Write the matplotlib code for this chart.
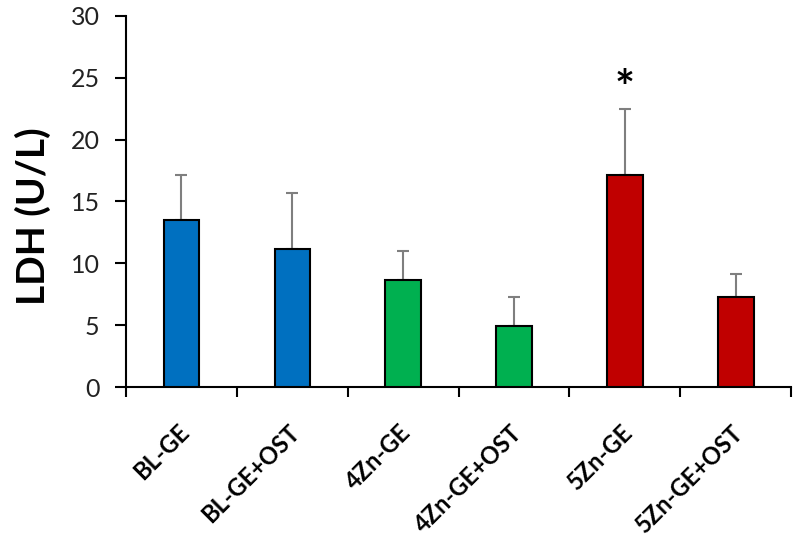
import numpy as np
import matplotlib.pyplot as plt
import matplotlib.transforms as mtransforms

# values
groups = ["BL-GE", "BL-GE+OST", "4Zn-GE", "4Zn-GE+OST", "5Zn-GE", "5Zn-GE+OST"]
ldh = [13.5, 11.15, 8.62, 4.95, 17.1, 7.32]
ldh_sd = [3.66, 4.53, 2.34, 2.37, 5.37, 1.81]
colors = ["#0070C0", "#0070C0", "#00B050", "#00B050", "#C00000", "#C00000"]
star_group = "5Zn-GE"
star_y = 24.0

plt.rcParams['font.family'] = ['Lato', 'DejaVu Sans']

fig = plt.figure(figsize=(8, 5.43), dpi=100)
ax = fig.add_axes([0.1575, 0.287, 0.8315, 0.684])

x = np.arange(len(groups))
ax.bar(x, ldh, width=0.32, color=colors, edgecolor="black", linewidth=1.5, zorder=3)
ax.errorbar(x, ldh, yerr=[np.zeros(len(ldh)), ldh_sd], fmt="none",
            ecolor="#7f7f7f", elinewidth=1.5, capsize=4.5, capthick=1.5, zorder=2)

ax.text(groups.index(star_group), star_y, "*", ha="center", va="center",
        fontsize=34, fontweight="bold")

ax.set_xlim(-0.5, len(groups) - 0.5)
ax.set_ylim(0, 30)
ax.set_yticks(np.arange(0, 31, 5))
ax.tick_params(axis="y", labelsize=18, length=8, width=1.5, direction="out", pad=11,
               labelcolor="#222222")

# ticks at group boundaries, labels at centers
ax.set_xticks(np.arange(-0.5, len(groups), 1.0))
ax.set_xticklabels([])
ax.tick_params(axis="x", which="major", length=7, width=1.5, direction="out")
ax.set_xticks(x, minor=True)
ax.set_xticklabels(groups, minor=True, rotation=45, ha="right",
                   rotation_mode="anchor", fontsize=17, fontweight="bold")
ax.tick_params(axis="x", which="minor", length=0, pad=24)
shift = mtransforms.ScaledTranslation(-3 / 72, 0, fig.dpi_scale_trans)
for lbl in ax.get_xticklabels(minor=True):
    lbl.set_transform(lbl.get_transform() + shift)

ax.set_ylabel("LDH (U/L)", fontsize=28, fontweight="bold", labelpad=14, y=0.46)

for s in ["top", "right"]:
    ax.spines[s].set_visible(False)
for s in ["left", "bottom"]:
    ax.spines[s].set_linewidth(1.5)

fig.savefig("out.png", dpi=100)
